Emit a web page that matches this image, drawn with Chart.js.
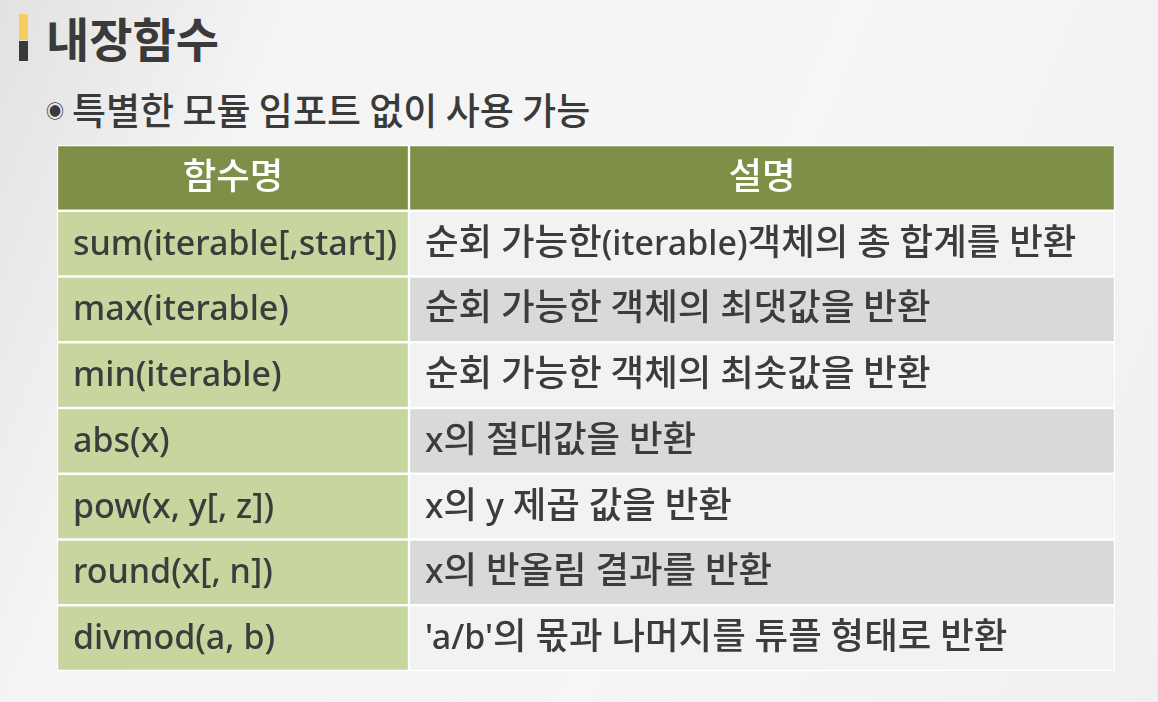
<!DOCTYPE html>
<html>
<head>
<meta charset="utf-8">
<script src="https://cdn.jsdelivr.net/npm/chart.js@4.4.1/dist/chart.umd.min.js"></script>
<style>
  html, body { margin: 0; padding: 0; }
  body {
    width: 1158px; height: 702px; overflow: hidden; position: relative;
    background: linear-gradient(112deg, #e2e2e2 0%, #eaeaea 9%, #f4f4f4 20%, #f6f6f6 60%, #f0f0f0 100%);
    font-family: 'Noto Sans', 'Noto Sans CJK KR', sans-serif;
  }
  .mark { position: absolute; left: 19px; width: 9px; }
  .mark.top { top: 14px; height: 26px; background: #f7cd62; }
  .mark.bot { top: 41px; height: 20px; background: #3a3a3a; }
  h1 {
    position: absolute; left: 46px; top: 2px; margin: 0; line-height: 1.3;
    font: bold 47px 'Noto Sans CJK KR', sans-serif; color: #3a3a3a;
  }
  .sub {
    position: absolute; left: 46px; top: 82px; margin: 0; line-height: 1.3;
    font: 500 37px 'Noto Sans CJK KR', sans-serif; color: #3a3a3a;
  }
  .sub .dot { font-size: 18px; vertical-align: 7px; margin-right: 8px; }
  #wrap { position: absolute; left: 57px; top: 145px; width: 1058px; height: 526px; }
</style>
</head>
<body>
<div class="mark top"></div><div class="mark bot"></div>
<h1>내장함수</h1>
<p class="sub"><span class="dot">◉</span>특별한 모듈 임포트 없이 사용 가능</p>
<div id="wrap"><canvas id="mycanvas"></canvas></div>
<script>
var headers = ['함수명', '설명'];
var funcNames = [
  'sum(iterable[,start])',
  'max(iterable)',
  'min(iterable)',
  'abs(x)',
  'pow(x, y[, z])',
  'round(x[, n])',
  'divmod(a, b)'
];
var descriptions = [
  '순회 가능한(iterable)객체의 총 합계를 반환',
  '순회 가능한 객체의 최댓값을 반환',
  '순회 가능한 객체의 최솟값을 반환',
  'x의 절대값을 반환',
  'x의 y 제곱 값을 반환',
  'x의 반올림 결과를 반환',
  "'a/b'의 몫과 나머지를 튜플 형태로 반환"
];

// column split as a share of the table width
var split = 352 / 1058;

var rowLabels = ['head'].concat(funcNames);
var leftText = [headers[0]].concat(funcNames);
var rightText = [headers[1]].concat(descriptions);

var leftColors = [];
var rightColors = [];
for (var i in rowLabels) {
  if (i == 0) {
    leftColors.push('#7e8f48');
    rightColors.push('#7e8f48');
  } else {
    leftColors.push('#c7d59f');
    rightColors.push(i % 2 == 1 ? '#f2f2f2' : '#d9d9d9');
  }
}

// hangul a bit larger than latin, like the original font
var hangulFont = "500 36.5px 'Noto Sans CJK KR', sans-serif";
var latinFont = "500 34px 'Noto Sans', 'Noto Sans CJK KR', sans-serif";

function runs(text) {
  return text.match(/[\uAC00-\uD7A3\u3130-\u318F]+|[^\uAC00-\uD7A3\u3130-\u318F]+/g) || [];
}

function mixedWidth(ctx, text) {
  var w = 0;
  runs(text).forEach(function(r) {
    ctx.font = /[\uAC00-\uD7A3]/.test(r) ? hangulFont : latinFont;
    w += ctx.measureText(r).width;
  });
  return w;
}

function drawMixed(ctx, text, x, y) {
  runs(text).forEach(function(r) {
    ctx.font = /[\uAC00-\uD7A3]/.test(r) ? hangulFont : latinFont;
    ctx.fillText(r, x, y);
    x += ctx.measureText(r).width;
  });
}

var cellText = {
  id: 'cellText',
  afterDatasetsDraw: function(chart) {
    var ctx = chart.ctx;
    ctx.save();
    ctx.textBaseline = 'alphabetic';
    ctx.textAlign = 'left';
    [leftText, rightText].forEach(function(texts, d) {
      var bars = chart.getDatasetMeta(d).data;
      bars.forEach(function(bar, r) {
        var x0 = Math.min(bar.x, bar.base), x1 = Math.max(bar.x, bar.base);
        if (r == 0) {
          ctx.fillStyle = '#ffffff';
          var w = mixedWidth(ctx, texts[r]);
          drawMixed(ctx, texts[r], (x0 + x1 - w) / 2, bar.y + 11);
        } else {
          ctx.fillStyle = '#3c3c3c';
          drawMixed(ctx, texts[r], x0 + 16, bar.y + 11);
        }
      });
    });
    ctx.restore();
  }
};

var ctx = document.getElementById('mycanvas');
var table = new Chart(ctx, {
  type: 'bar',
  data: {
    labels: rowLabels,
    datasets: [
      {
        data: rowLabels.map(function() { return [0, split]; }),
        backgroundColor: leftColors,
        borderColor: '#ffffff',
        borderWidth: 1.5,
        borderSkipped: false
      },
      {
        data: rowLabels.map(function() { return [split, 1]; }),
        backgroundColor: rightColors,
        borderColor: '#ffffff',
        borderWidth: 1.5,
        borderSkipped: false
      }
    ]
  },
  options: {
    indexAxis: 'y',
    responsive: true,
    maintainAspectRatio: false,
    animation: false,
    events: [],
    grouped: false,
    categoryPercentage: 1,
    barPercentage: 1,
    layout: { padding: 0 },
    plugins: { legend: { display: false }, tooltip: { enabled: false } },
    scales: {
      x: { display: false, min: 0, max: 1 },
      y: { display: false }
    }
  },
  plugins: [cellText]
});
</script>
</body>
</html>
